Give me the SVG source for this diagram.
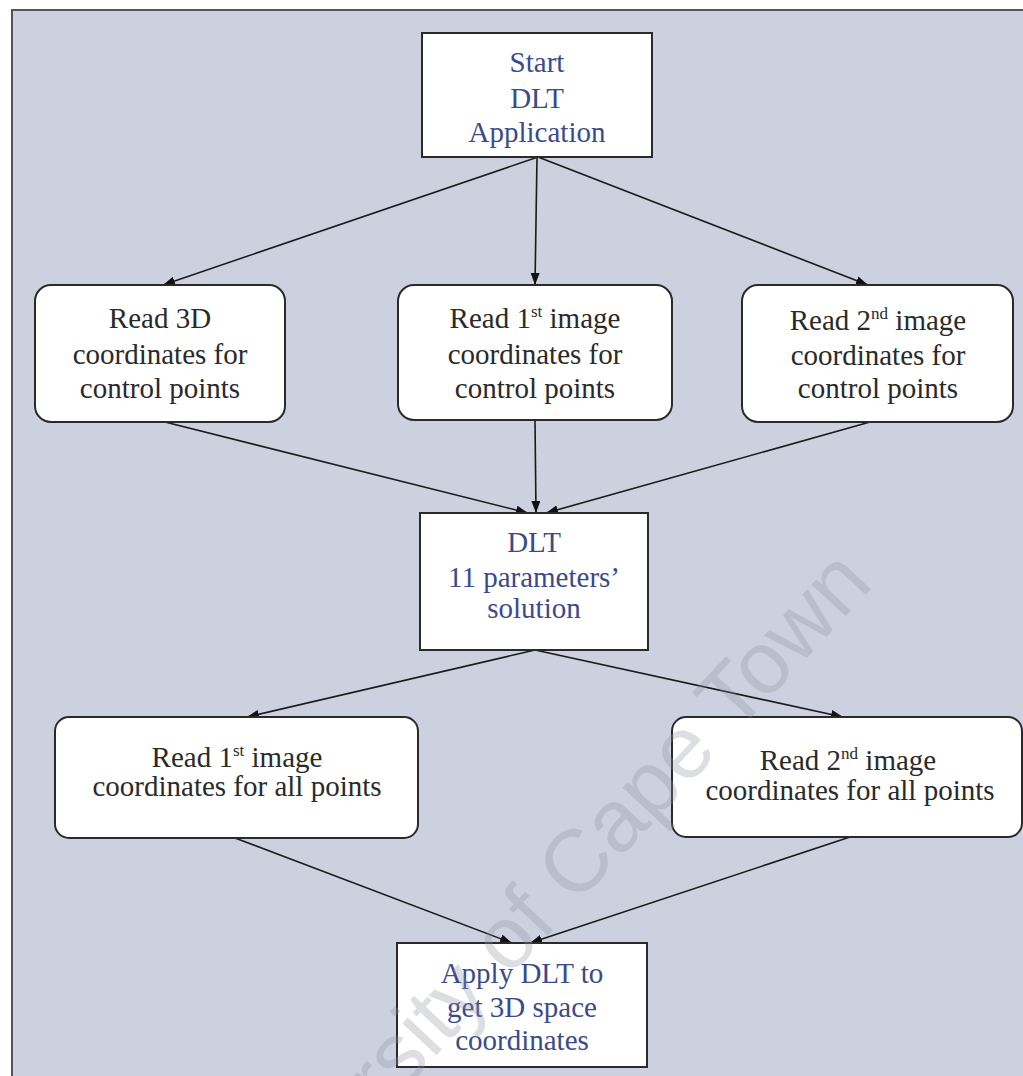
<svg xmlns="http://www.w3.org/2000/svg" width="1023" height="1076" viewBox="0 0 1023 1076">
<style>
.box{fill:#ffffff;stroke:#2a2a2a;stroke-width:2}
.t{font-family:"Liberation Serif","Times New Roman",serif;font-size:29px;text-anchor:middle;fill:#2a2a2a}
.b{fill:#3b4a8c}
.sup{font-size:17px}
.c{stroke:#1a1a1a;stroke-width:1.6;fill:none;marker-end:url(#ah)}
.wm{font-family:"Liberation Sans",Arial,sans-serif;font-size:88px;fill:#8f93a3;opacity:0.3}
</style>
<defs>
<marker id="ah" markerWidth="13" markerHeight="10" refX="12" refY="4.5" orient="auto" markerUnits="userSpaceOnUse">
<path d="M0,0 L12,4.5 L0,9 z" fill="#111"/>
</marker>
</defs>
<rect x="0" y="0" width="1023" height="1076" fill="#ffffff"/>
<rect x="12" y="10" width="1030" height="1090" fill="#cdd0df" stroke="#555" stroke-width="2"/>

<g id="connectors">
<line class="c" x1="538" y1="157" x2="163" y2="285"/>
<line class="c" x1="537" y1="157" x2="535" y2="285"/>
<line class="c" x1="538" y1="157" x2="868" y2="285"/>
<line class="c" x1="165" y1="422" x2="528" y2="513"/>
<line class="c" x1="535" y1="420" x2="536" y2="513"/>
<line class="c" x1="870" y1="422" x2="546" y2="513"/>
<line class="c" x1="535" y1="650" x2="247" y2="717"/>
<line class="c" x1="535" y1="650" x2="843" y2="717"/>
<line class="c" x1="235" y1="838" x2="512" y2="943"/>
<line class="c" x1="850" y1="837" x2="530" y2="943"/>
</g>

<g id="start">
<rect class="box" x="422" y="33" width="230" height="124"/>
<text class="t b" x="537" y="72">Start</text>
<text class="t b" x="537" y="108">DLT</text>
<text class="t b" x="537" y="142">Application</text>
</g>

<g id="read3d">
<rect class="box" x="35" y="285" width="250" height="137" rx="16"/>
<text class="t" x="160" y="328">Read 3D</text>
<text class="t" x="160" y="364">coordinates for</text>
<text class="t" x="160" y="398">control points</text>
</g>

<g id="read1cp">
<rect class="box" x="398" y="285" width="274" height="135" rx="16"/>
<text class="t" x="535" y="328">Read 1<tspan class="sup" dy="-11">st</tspan><tspan dy="11"> image</tspan></text>
<text class="t" x="535" y="364">coordinates for</text>
<text class="t" x="535" y="398">control points</text>
</g>

<g id="read2cp">
<rect class="box" x="742" y="285" width="271" height="137" rx="16"/>
<text class="t" x="878" y="330">Read 2<tspan class="sup" dy="-11">nd</tspan><tspan dy="11"> image</tspan></text>
<text class="t" x="878" y="365">coordinates for</text>
<text class="t" x="878" y="398">control points</text>
</g>

<g id="dlt">
<rect class="box" x="420" y="513" width="228" height="137"/>
<text class="t b" x="534" y="552">DLT</text>
<text class="t b" x="534" y="587">11 parameters’</text>
<text class="t b" x="534" y="618">solution</text>
</g>

<g id="read1all">
<rect class="box" x="55" y="717" width="363" height="121" rx="14"/>
<text class="t" x="237" y="767">Read 1<tspan class="sup" dy="-11">st</tspan><tspan dy="11"> image</tspan></text>
<text class="t" x="237" y="796">coordinates for all points</text>
</g>

<g id="read2all">
<rect class="box" x="672" y="717" width="350" height="120" rx="14"/>
<text class="t" x="848" y="770">Read 2<tspan class="sup" dy="-11">nd</tspan><tspan dy="11"> image</tspan></text>
<text class="t" x="850" y="800">coordinates for all points</text>
</g>

<g id="apply">
<rect class="box" x="397" y="943" width="250" height="124"/>
<text class="t b" x="522" y="983">Apply DLT to</text>
<text class="t b" x="522" y="1017">get 3D space</text>
<text class="t b" x="522" y="1050">coordinates</text>
</g>

<text class="wm" x="875" y="585" text-anchor="end" transform="rotate(-47 875 585)">University of Cape Town</text>
</svg>
